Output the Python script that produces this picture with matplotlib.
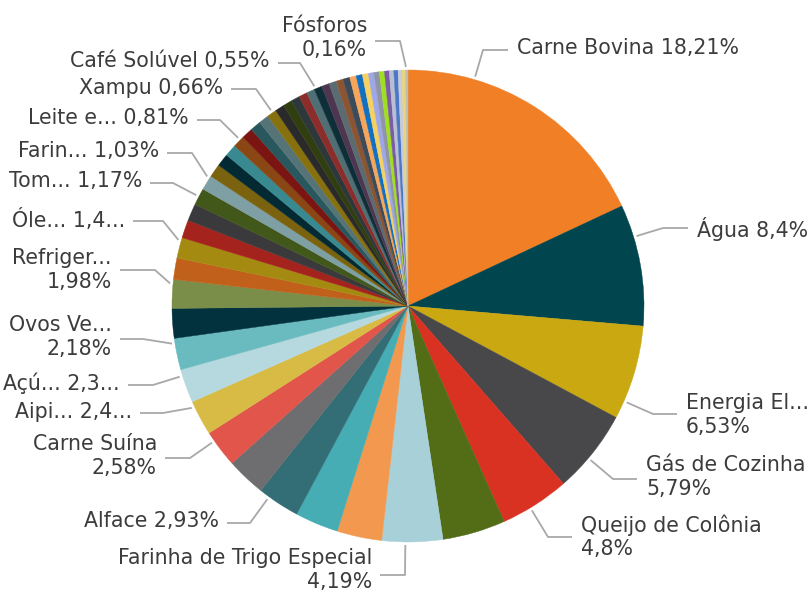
import os
os.environ.setdefault("MPLBACKEND", "Agg")
import numpy as np
import matplotlib.pyplot as plt

# slice values (%), clockwise from 12 o'clock
values = [
    18.21, 8.4, 6.53, 5.79, 4.8, 4.35, 4.19, 3.1, 3.0, 2.93, 2.7, 2.58, 2.42, 2.32, 2.18, 2.05, 1.98,
    1.48, 1.42, 1.25, 1.19, 1.17, 1.03, 0.92, 0.87, 0.84, 0.81, 0.78, 0.74, 0.7, 0.66,
    0.64, 0.62, 0.6, 0.58, 0.56, 0.55,
    0.53, 0.51, 0.49, 0.47, 0.45, 0.43, 0.41, 0.39, 0.37, 0.35, 0.33, 0.31, 0.29, 0.27, 0.25, 0.16,
]
colors = [
    "#F07F26", "#01454F", "#C9A812", "#48484B", "#DA3222", "#526D16", "#A8D0D8", "#F2994F",
    "#45ADB3", "#336D75", "#6E6E70", "#E1554B", "#D8BB45", "#B5D9DE", "#6ABBBF", "#01323D",
    "#7A8E49", "#C1601B", "#A58A12", "#A5231D", "#3A3A3C", "#42571A", "#7EA0A4", "#7A620E",
    "#032A32", "#388A90", "#8A4714", "#7B1511", "#28575E", "#567478", "#87710F", "#2A2A2B",
    "#313F10", "#2D383B", "#8C2D2B", "#4F6F74", "#0E2F38", "#4E3650", "#5B6B72", "#8B5534",
    "#3B4B5A", "#F5A65B", "#1170C2", "#F4D160", "#9FA8E6", "#8F94A6", "#A0DF1E", "#7B5CA6",
    "#B9BFD2", "#4C77C6", "#C7CCD6", "#E9D47E", "#BDBDB0",
]
# data labels shown by the visual (slice index -> text)
label_idx = [0, 1, 2, 3, 4, 6, 9, 11, 12, 13, 14, 16, 18, 21, 22, 26, 30, 36, 52]
label_txt = [
    "Carne Bovina 18,21%", "Água 8,4%", "Energia El...\n6,53%", "Gás de Cozinha\n5,79%",
    "Queijo de Colônia\n4,8%", "Farinha de Trigo Especial\n4,19%", "Alface 2,93%",
    "Carne Suína\n2,58%", "Aipi... 2,4...", "Açú... 2,3...", "Ovos Ve...\n2,18%",
    "Refriger...\n1,98%", "Óle... 1,4...", "Tom... 1,17%", "Farin... 1,03%",
    "Leite e... 0,81%", "Xampu 0,66%", "Café Solúvel 0,55%", "Fósforos\n0,16%",
]

# layout, in pixels from top-left: leader elbow (x, y), leader end x next to text, text y
W, H = 809, 592
CX, CY, R = 408, 306, 236
elbows = [
    (483, 50, 508, 48), (663, 228, 688, 229), (653, 414, 677, 415), (613, 479, 637, 477),
    (548, 537, 572, 537), (405, 575, 380, 570), (250, 523, 227, 521), (190, 458, 165, 456),
    (163, 413, 140, 412), (153, 385, 128, 383), (143, 339, 120, 337), (155, 270, 120, 270),
    (163, 221, 133, 220), (173, 183, 150, 181), (192, 153, 167, 151), (220, 120, 197, 118),
    (256, 89, 231, 88), (300, 63, 278, 61), (400, 41, 375, 38),
]

fig = plt.figure(figsize=(W / 100, H / 100), dpi=100)
ax = fig.add_axes([0, 0, 1, 1])
wedges, _ = ax.pie(values, colors=colors, startangle=90, counterclock=False,
                   center=(CX, H - CY), radius=R, wedgeprops=dict(linewidth=0.3))
for w in wedges:
    w.set_edgecolor(w.get_facecolor())
ax.set_xlim(0, W)
ax.set_ylim(0, H)
ax.set_aspect("equal")
ax.axis("off")

LINE = "#A8A8A8"
TXT = "#3C3C3C"
for i, txt, (ex, ey, tx, ty) in zip(label_idx, label_txt, elbows):
    w = wedges[i]
    mid = (w.theta1 + w.theta2) / 2
    half = (w.theta2 - w.theta1) / 2
    phi = np.degrees(np.arctan2((H - ey) - (H - CY), ex - CX))
    d = ((phi - mid + 180) % 360) - 180
    ang = np.radians(mid + np.clip(d, -0.7 * half, 0.7 * half))
    sx = CX + (R + 3) * np.cos(ang)
    sy = (H - CY) + (R + 3) * np.sin(ang)
    ax.plot([sx, ex, tx], [sy, H - ey, H - ey], color=LINE, lw=1.3,
            solid_capstyle="butt")
    right = tx > ex
    ax.text(tx + 9 if right else tx - 8, H - ty, txt,
            ha="left" if right else "right", va="center",
            fontsize=14.8, color=TXT, linespacing=1.2)

fig.savefig("out.png", dpi=100, facecolor="white")
